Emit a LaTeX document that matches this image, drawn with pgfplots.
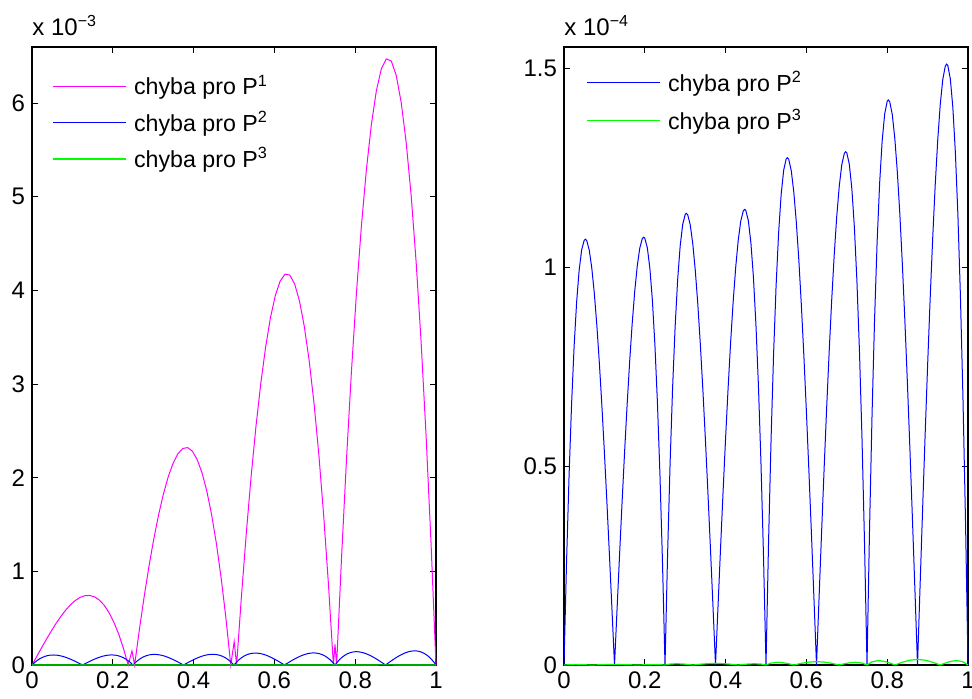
\documentclass[border=0pt]{standalone}
\usepackage{fontspec}
\setmainfont{Liberation Sans}
\usepackage{pgfplots}
\pgfplotsset{compat=1.18}
\usepackage{pgfplotstable}

% error of P^1 (units 1e-3)
\pgfplotstableread{
x y
0 0
0.0119 0.0926
0.0238 0.1848
0.0357 0.2751
0.0476 0.3620
0.0595 0.4437
0.0714 0.5188
0.0833 0.5858
0.0952 0.6430
0.1071 0.6889
0.1190 0.7219
0.1309 0.7404
0.1428 0.7430
0.1547 0.7280
0.1666 0.6939
0.1785 0.6391
0.1904 0.5620
0.2023 0.4612
0.2142 0.3349
0.2261 0.1817
0.2380 0
0.2475 0.15
0.2540 0
0.2659 0.3814
0.2778 0.7348
0.2897 1.0583
0.3016 1.3497
0.3135 1.6071
0.3254 1.8283
0.3373 2.0115
0.3492 2.1545
0.3611 2.2553
0.3730 2.3120
0.3849 2.3223
0.3968 2.2845
0.4087 2.1963
0.4206 2.0558
0.4325 1.8609
0.4444 1.6096
0.4563 1.2999
0.4682 0.9298
0.4801 0.4972
0.4920 0
0.5005 0.25
0.5065 0
0.5185 0.7387
0.5305 1.4111
0.5424 2.0153
0.5544 2.5493
0.5664 3.0112
0.5784 3.3994
0.5903 3.7116
0.6023 3.9461
0.6143 4.1009
0.6263 4.1742
0.6382 4.1639
0.6502 4.0683
0.6622 3.8853
0.6741 3.6132
0.6861 3.2499
0.6981 2.7936
0.7101 2.2424
0.7220 1.5944
0.7340 0.8475
0.7460 0
0.7500 0.22
0.7540 0
0.7663 1.1576
0.7786 2.2085
0.7909 3.1503
0.8032 3.9804
0.8155 4.6963
0.8278 5.2954
0.8401 5.7753
0.8524 6.1332
0.8647 6.3668
0.8770 6.4735
0.8893 6.4508
0.9016 6.2959
0.9139 6.0064
0.9262 5.5800
0.9385 5.0140
0.9508 4.3057
0.9631 3.4526
0.9754 2.4524
0.9877 1.3024
1.0000 0
}\pone

% error of P^2 (units 1e-4)
\pgfplotstableread{
x y
0 0
0.00625 0.2574
0.0125 0.4754
0.01875 0.6558
0.025 0.8007
0.03125 0.9122
0.0375 0.9924
0.04375 1.0436
0.05 1.0675
0.05283 1.07
0.05625 1.0665
0.0625 1.0425
0.06875 0.9977
0.075 0.9341
0.08125 0.8539
0.0875 0.7590
0.09375 0.6515
0.1 0.5337
0.10625 0.4076
0.1125 0.2752
0.11875 0.1387
0.125 0
0.13125 0.1393
0.1375 0.2765
0.14375 0.4095
0.15 0.5362
0.15625 0.6546
0.1625 0.7625
0.16875 0.8579
0.175 0.9385
0.18125 1.0023
0.1875 1.0474
0.19375 1.0715
0.19717 1.075
0.2 1.0725
0.20625 1.0484
0.2125 0.9971
0.21875 0.9164
0.225 0.8044
0.23125 0.6589
0.2375 0.4776
0.24375 0.2586
0.25 0
0.25625 0.2731
0.2625 0.5043
0.26875 0.6956
0.275 0.8493
0.28125 0.9676
0.2875 1.0527
0.29375 1.1070
0.3 1.1324
0.30283 1.135
0.30625 1.1313
0.3125 1.1058
0.31875 1.0583
0.325 0.9909
0.33125 0.9057
0.3375 0.8051
0.34375 0.6911
0.35 0.5661
0.35625 0.4323
0.3625 0.2919
0.36875 0.1471
0.375 0
0.38125 0.1484
0.3875 0.2945
0.39375 0.4361
0.4 0.5711
0.40625 0.6972
0.4125 0.8121
0.41875 0.9137
0.425 0.9996
0.43125 1.0676
0.4375 1.1156
0.44375 1.1412
0.44717 1.145
0.45 1.1424
0.45625 1.1167
0.4625 1.0620
0.46875 0.9761
0.475 0.8568
0.48125 0.7018
0.4875 0.5087
0.49375 0.2755
0.5 0
0.50625 0.3068
0.5125 0.5665
0.51875 0.7814
0.525 0.9541
0.53125 1.0869
0.5375 1.1826
0.54375 1.2435
0.55 1.2721
0.55283 1.275
0.55625 1.2708
0.5625 1.2422
0.56875 1.1888
0.575 1.1131
0.58125 1.0175
0.5875 0.9044
0.59375 0.7763
0.6 0.6360
0.60625 0.4856
0.6125 0.3279
0.61875 0.1652
0.625 0
0.63125 0.1672
0.6375 0.3318
0.64375 0.4914
0.65 0.6435
0.65625 0.7855
0.6625 0.9150
0.66875 1.0294
0.675 1.1262
0.68125 1.2028
0.6875 1.2568
0.69375 1.2857
0.69717 1.29
0.7 1.2870
0.70625 1.2581
0.7125 1.1965
0.71875 1.0997
0.725 0.9653
0.73125 0.7906
0.7375 0.5731
0.74375 0.3104
0.75 0
0.75625 0.3417
0.7625 0.6309
0.76875 0.8703
0.775 1.0626
0.78125 1.2106
0.7875 1.3171
0.79375 1.3849
0.8 1.4167
0.80283 1.42
0.80625 1.4153
0.8125 1.3835
0.81875 1.3240
0.825 1.2397
0.83125 1.1332
0.8375 1.0072
0.84375 0.8646
0.85 0.7083
0.85625 0.5409
0.8625 0.3652
0.86875 0.1840
0.875 0
0.88125 0.1957
0.8875 0.3884
0.89375 0.5752
0.9 0.7532
0.90625 0.9194
0.9125 1.0710
0.91875 1.2050
0.925 1.3182
0.93125 1.4079
0.9375 1.4712
0.94375 1.5050
0.94717 1.51
0.95 1.5065
0.95625 1.4727
0.9625 1.4005
0.96875 1.2873
0.975 1.1299
0.98125 0.9255
0.9875 0.6709
0.99375 0.3633
1 0
}\ptwo

% error of P^3 (units 1e-4)
\pgfplotstableread{
x y
0 0
0.0125 0.0007
0.0282 0.00096
0.0438 0.00077
0.0563 0.00043
0.0691 0
0.0875 0.0006
0.1063 0.00104
0.125 0.0012
0.1438 0.00104
0.1625 0.0006
0.1809 0
0.1938 0.00043
0.2063 0.00077
0.2218 0.00096
0.2375 0.0007
0.25 0
0.2625 0.00232
0.2782 0.0032
0.2938 0.00257
0.3063 0.00143
0.3191 0
0.3375 0.002
0.3563 0.00347
0.375 0.004
0.3938 0.00347
0.4125 0.002
0.4309 0
0.4438 0.00143
0.4563 0.00257
0.4718 0.0032
0.4875 0.00232
0.5 0
0.5125 0.00493
0.5282 0.0068
0.5438 0.00546
0.5563 0.00304
0.5691 0
0.5875 0.00425
0.6063 0.00737
0.625 0.0085
0.6438 0.00737
0.6625 0.00425
0.6809 0
0.6938 0.00304
0.7063 0.00546
0.7218 0.0068
0.7375 0.00493
0.75 0
0.7625 0.00811
0.7782 0.0112
0.7938 0.009
0.8063 0.005
0.8191 0
0.8375 0.00701
0.8563 0.01215
0.875 0.014
0.8938 0.01215
0.9125 0.00701
0.9309 0
0.9438 0.005
0.9563 0.009
0.9718 0.0112
0.9875 0.00811
1 0
}\pthree

\definecolor{mmag}{rgb}{1,0,1}
\definecolor{mblue}{rgb}{0,0,1}
\definecolor{mgreen}{rgb}{0,1,0}

\pgfplotsset{
  mstyle/.style={
    scale only axis, width=202pt, height=309pt,
    xmin=0, xmax=1, ymin=0,
    xtick={0,0.2,0.4,0.6,0.8,1},
    xticklabels={0,0.2,0.4,0.6,0.8,1},
    tick align=inside, xtick pos=both, ytick pos=both,
    major tick length=3pt,
    axis line style={line width=0.6pt},
    tick style={black, line width=0.5pt},
    tick label style={font=\fontsize{12}{14}\selectfont},
    /pgf/number format/assume math mode=true,
    clip=false,
    legend style={draw=none, fill=none, anchor=north west, inner sep=0pt,
      font=\fontsize{11.6}{13}\selectfont,
      /tikz/every odd column/.append style={column sep=1.5pt}},
    legend cell align=left,
    legend image code/.code={\draw[##1, line width=0.75pt] (0pt,0pt) -- (36.5pt,0pt);},
    every axis plot/.append style={line width=0.5pt},
  }
}

\begin{document}
\begin{tikzpicture}[x=1pt,y=1pt]
\useasboundingbox (0,0) rectangle (486,349);
\begin{axis}[mstyle, at={(16pt,16.5pt)}, anchor=south west,
  ymax=6.6, ytick={0,1,2,3,4,5,6},
  legend style={at={(0.05,0.962)}, row sep=2.7pt}]
\addplot[color=mmag, no marks] table {\pone};
\addlegendentry{chyba pro P\textsuperscript{1}}
\addplot[color=mblue, no marks] table [y expr=\thisrow{y}/10] {\ptwo};
\addlegendentry{chyba pro P\textsuperscript{2}}
\addplot[color=mgreen, no marks, line width=0.6pt] table [y expr=\thisrow{y}/10] {\pthree};
\addlegendentry{chyba pro P\textsuperscript{3}}
\node[anchor=base west, inner sep=0pt, font=\fontsize{12}{14}\selectfont]
  at ([yshift=6pt]rel axis cs:0,1) {x 10\textsuperscript{−3}};
\end{axis}
\begin{axis}[mstyle, at={(282pt,16.5pt)}, anchor=south west,
  ymax=1.553, ytick={0,0.5,1,1.5}, yticklabels={0,0.5,1,1.5},
  legend style={at={(0.055,0.968)}, row sep=3.4pt}]
\addplot[color=mblue, no marks] table {\ptwo};
\addlegendentry{chyba pro P\textsuperscript{2}}
\addplot[color=mgreen, no marks, line width=0.6pt] table {\pthree};
\addlegendentry{chyba pro P\textsuperscript{3}}
\node[anchor=base west, inner sep=0pt, font=\fontsize{12}{14}\selectfont]
  at ([yshift=6pt]rel axis cs:0,1) {x 10\textsuperscript{−4}};
\end{axis}
\end{tikzpicture}
\end{document}
